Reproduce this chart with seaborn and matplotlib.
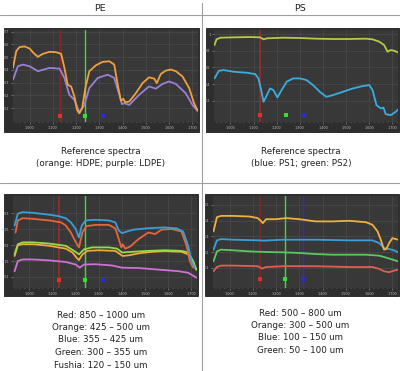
import numpy as np
import pandas as pd
import matplotlib
matplotlib.use("Agg")
import matplotlib.pyplot as plt
import seaborn as sns
from matplotlib.patches import Rectangle
from matplotlib.lines import Line2D
from matplotlib.ticker import MultipleLocator

# ---------------- data ----------------
headers = ["PE", "PS"]
x_ticks = [1000, 1100, 1200, 1300, 1400, 1500, 1600, 1700]
x_tick_labels = ["1,000", "1,100", "1,200", "1,300", "1,400", "1,500", "1,600", "1,700"]

# PE reference spectra
hdpe_wl = [929, 943, 957, 979, 1000, 1021, 1036, 1057, 1086, 1114, 1136, 1150, 1164, 1179, 1193, 1204,
           1214, 1226, 1240, 1257, 1286, 1314, 1343, 1364, 1379, 1393, 1403, 1411, 1429, 1457, 1486,
           1514, 1536, 1547, 1564, 1586, 1607, 1629, 1657, 1686, 1707, 1721]
hdpe_val = [0.416, 0.547, 0.579, 0.584, 0.568, 0.526, 0.503, 0.526, 0.542, 0.539, 0.526, 0.416, 0.284,
            0.27, 0.19, 0.087, 0.06, 0.10, 0.258, 0.39, 0.437, 0.463, 0.468, 0.442, 0.284, 0.158, 0.174,
            0.147, 0.153, 0.218, 0.297, 0.342, 0.332, 0.297, 0.368, 0.395, 0.403, 0.39, 0.35, 0.258,
            0.139, 0.087]
ldpe_wl = [929, 950, 971, 1000, 1036, 1086, 1129, 1150, 1171, 1193, 1214, 1236, 1257, 1293, 1336, 1364,
           1386, 1397, 1407, 1429, 1471, 1514, 1543, 1571, 1600, 1629, 1671, 1700, 1724]
ldpe_val = [0.324, 0.429, 0.442, 0.429, 0.39, 0.416, 0.41, 0.337, 0.205, 0.166, 0.068, 0.126, 0.258,
            0.337, 0.363, 0.337, 0.205, 0.132, 0.139, 0.126, 0.205, 0.271, 0.253, 0.29, 0.31, 0.29,
            0.218, 0.126, 0.074]

# PS reference spectra
ps2_wl = [931, 940, 957, 1014, 1086, 1129, 1143, 1157, 1229, 1300, 1371, 1443, 1514, 1586, 1614, 1643,
          1664, 1679, 1693, 1707, 1724]
ps2_val = [0.868, 0.936, 0.956, 0.96, 0.964, 0.96, 0.936, 0.948, 0.956, 0.952, 0.944, 0.94, 0.94, 0.944,
           0.936, 0.908, 0.868, 0.788, 0.808, 0.8, 0.78]
ps1_wl = [931, 950, 971, 1014, 1071, 1107, 1121, 1133, 1143, 1154, 1171, 1186, 1203, 1221, 1243, 1271,
          1300, 1329, 1357, 1386, 1414, 1443, 1486, 1529, 1571, 1600, 1614, 1631, 1650, 1661, 1671,
          1693, 1714, 1724]
ps1_val = [0.468, 0.56, 0.568, 0.548, 0.536, 0.52, 0.468, 0.328, 0.188, 0.248, 0.348, 0.328, 0.24,
           0.328, 0.428, 0.468, 0.468, 0.448, 0.388, 0.308, 0.248, 0.268, 0.308, 0.348, 0.376, 0.388,
           0.328, 0.148, 0.108, 0.12, 0.04, 0.028, 0.068, 0.096]

# PE size fractions
pe_blue_wl = [936, 950, 971, 1014, 1086, 1129, 1157, 1179, 1200, 1214, 1226, 1243, 1286, 1343, 1371,
              1386, 1400, 1421, 1450, 1507, 1579, 1636, 1664, 1686, 1700, 1714]
pe_blue_val = [0.262, 0.299, 0.304, 0.302, 0.296, 0.291, 0.285, 0.272, 0.251, 0.224, 0.262, 0.278,
               0.28, 0.278, 0.272, 0.246, 0.238, 0.243, 0.249, 0.253, 0.256, 0.253, 0.243, 0.198, 0.15,
               0.129]
pe_red_wl = [940, 950, 971, 1014, 1086, 1136, 1157, 1179, 1197, 1214, 1229, 1246, 1286, 1343, 1371,
             1386, 1397, 1403, 1414, 1436, 1471, 1514, 1543, 1571, 1614, 1657, 1679, 1693, 1707]
pe_red_val = [0.24, 0.278, 0.285, 0.283, 0.278, 0.272, 0.262, 0.24, 0.214, 0.193, 0.24, 0.26, 0.264,
              0.264, 0.253, 0.219, 0.193, 0.203, 0.189, 0.196, 0.219, 0.24, 0.235, 0.249, 0.251, 0.243,
              0.198, 0.15, 0.129]
pe_green_wl = [936, 950, 971, 1014, 1086, 1157, 1193, 1214, 1236, 1271, 1343, 1379, 1400, 1443, 1514,
               1586, 1657, 1686, 1707, 1721]
pe_green_val = [0.171, 0.203, 0.209, 0.209, 0.205, 0.198, 0.182, 0.171, 0.187, 0.193, 0.193, 0.189,
                0.177, 0.179, 0.182, 0.184, 0.182, 0.177, 0.15, 0.123]
pe_orange_wl = [936, 950, 971, 1014, 1086, 1157, 1186, 1203, 1214, 1229, 1250, 1300, 1371, 1393, 1403,
                1429, 1471, 1529, 1586, 1657, 1686, 1707, 1721]
pe_orange_val = [0.166, 0.2, 0.203, 0.203, 0.198, 0.189, 0.177, 0.161, 0.153, 0.171, 0.182, 0.184,
                 0.182, 0.171, 0.166, 0.168, 0.174, 0.179, 0.181, 0.179, 0.171, 0.144, 0.123]
pe_fushia_wl = [936, 950, 971, 1014, 1086, 1157, 1200, 1217, 1236, 1286, 1357, 1400, 1471, 1557, 1643,
                1686, 1707, 1724]
pe_fushia_val = [0.118, 0.15, 0.155, 0.155, 0.152, 0.147, 0.139, 0.129, 0.139, 0.14, 0.136, 0.129,
                 0.128, 0.123, 0.118, 0.113, 0.104, 0.097]

# PS size fractions
ps_orange_wl = [931, 946, 964, 1014, 1086, 1121, 1133, 1143, 1157, 1200, 1243, 1300, 1371, 1443, 1514,
                1586, 1614, 1636, 1650, 1664, 1674, 1686, 1700, 1724]
ps_orange_val = [0.332, 0.422, 0.43, 0.43, 0.426, 0.416, 0.401, 0.384, 0.409, 0.409, 0.416, 0.409,
                 0.395, 0.395, 0.399, 0.39, 0.374, 0.332, 0.279, 0.216, 0.22, 0.258, 0.289, 0.279]
ps_blue_wl = [931, 946, 964, 1014, 1129, 1143, 1229, 1371, 1514, 1614, 1643, 1664, 1686, 1707, 1724]
ps_blue_val = [0.216, 0.275, 0.283, 0.279, 0.275, 0.273, 0.279, 0.279, 0.275, 0.275, 0.258, 0.226,
               0.22, 0.212, 0.199]
ps_green_wl = [931, 946, 964, 1014, 1086, 1157, 1229, 1300, 1371, 1443, 1514, 1586, 1643, 1679, 1724]
ps_green_val = [0.142, 0.205, 0.216, 0.212, 0.205, 0.201, 0.199, 0.195, 0.188, 0.184, 0.184, 0.184,
                0.178, 0.163, 0.142]
ps_red_wl = [931, 946, 964, 1014, 1121, 1140, 1157, 1229, 1371, 1514, 1614, 1643, 1664, 1686, 1707,
             1724]
ps_red_val = [0.079, 0.106, 0.115, 0.115, 0.111, 0.096, 0.106, 0.111, 0.111, 0.106, 0.106, 0.094,
              0.079, 0.073, 0.083, 0.089]

marker_wl = {"red": 1129, "green": 1240, "blue": 1317}

captions = [
    ["Reference spectra", "(orange: HDPE; purple: LDPE)"],
    ["Reference spectra", "(blue: PS1; green: PS2)"],
    ["Red: 850 \u2013 1000 um", "Orange: 425 \u2013 500 um", "Blue: 355 \u2013 425 um",
     "Green: 300 \u2013 355 um", "Fushia: 120 \u2013 150 um"],
    ["Red: 500 \u2013 800 um", "Orange: 300 \u2013 500 um", "Blue: 100 \u2013 150 um",
     "Green: 50 \u2013 100 um"],
]

# ---------------- figure ----------------
sns.set_theme(style="dark")
plt.rcParams['font.family'] = ['DejaVu Sans']
W, H = 400, 371
fig = plt.figure(figsize=(W / 100, H / 100), dpi=100)
fig.patch.set_facecolor("white")


def rect(x0, y0, x1, y1):
    return [x0 / W, 1 - y1 / H, (x1 - x0) / W, (y1 - y0) / H]


# table rules
fig.add_artist(Line2D([0, 1], [1 - 15 / H, 1 - 15 / H], color="#a0a0a0", lw=0.8))
fig.add_artist(Line2D([0, 1], [1 - 182.5 / H, 1 - 182.5 / H], color="#a0a0a0", lw=0.8))
fig.add_artist(Line2D([201.5 / W, 201.5 / W], [0, 1 - 3 / H], color="#a0a0a0", lw=0.8))

for i, h in enumerate(headers):
    fig.text((100 + 200 * i) / W, 1 - 8.5 / H, h, ha="center", va="center", fontsize=6.8, color="#222222")


def panel(panel_box, data_box, series, ylim, yticks, ylabels, markers_y, vlines):
    fig.add_artist(Rectangle((panel_box[0] / W, 1 - panel_box[3] / H),
                             (panel_box[2] - panel_box[0]) / W, (panel_box[3] - panel_box[1]) / H,
                             transform=fig.transFigure, facecolor="#2e2e2e", edgecolor="#1e1e1e",
                             lw=0.6, zorder=0))
    ax = fig.add_axes(rect(*data_box))
    ax.set_facecolor("#383838")
    for wl, val, c in series:
        df = pd.DataFrame({"wl": wl, "val": val})
        sns.lineplot(data=df, x="wl", y="val", ax=ax, color=c, lw=1.3, estimator=None, sort=False,
                     zorder=3)
    for name, c, a, lw in vlines:
        ax.axvline(marker_wl[name], color=c, alpha=a, lw=lw, zorder=2)
    for name, c in [("red", "#e0302a"), ("green", "#33e033"), ("blue", "#2a2ae0")]:
        ax.scatter([marker_wl[name]], [markers_y], s=5, marker="s", color=c, zorder=4, linewidths=0)
    ax.set_xlim(929, 1724)
    ax.set_ylim(*ylim)
    ax.set_xticks(x_ticks)
    ax.set_xticklabels(x_tick_labels)
    ax.set_yticks(yticks)
    ax.set_yticklabels(ylabels)
    ax.xaxis.set_minor_locator(MultipleLocator(20))
    ax.tick_params(axis="both", which="major", labelsize=2.4, labelcolor="#bdbdbd", color="#9a9a9a",
                   length=1.5, width=0.4, pad=1.2, bottom=True, left=True)
    ax.tick_params(axis="both", which="minor", color="#8a8a8a", length=1.0, width=0.3, bottom=True)
    ax.grid(True, color="#4c4c4c", lw=0.5)
    ax.set_xlabel("")
    ax.set_ylabel("")
    for s in ax.spines.values():
        s.set_visible(False)
    return ax


GREEN_LINE = ("green", "#3ddc3d", 1.0, 1.0)

# top-left: PE reference
panel((4, 28, 199, 132), (13, 30, 198, 122),
      [(ldpe_wl, ldpe_val, "#9b7fd6"), (hdpe_wl, hdpe_val, "#f0a040")],
      (-0.008, 0.713), [0.1, 0.2, 0.3, 0.4, 0.5, 0.6, 0.7],
      ["0.1", "0.2", "0.3", "0.4", "0.5", "0.6", "0.7"], 0.042,
      [("red", "#8c2424", 0.85, 2.0), GREEN_LINE])

# top-right: PS reference
panel((206, 28, 399, 132), (214, 30, 398, 122),
      [(ps2_wl, ps2_val, "#b8c848"), (ps1_wl, ps1_val, "#3aaee0")],
      (-0.054, 1.048), [0.2, 0.4, 0.6, 0.8, 1.0],
      ["0.2", "0.4", "0.6", "0.8", "1"], 0.028,
      [("red", "#b02828", 0.85, 1.2)])

# bottom-left: PE fractions
panel((4, 194, 198, 296), (13, 196, 197, 288),
      [(pe_fushia_wl, pe_fushia_val, "#d070d8"), (pe_orange_wl, pe_orange_val, "#f0a838"),
       (pe_green_wl, pe_green_val, "#9ad84a"), (pe_red_wl, pe_red_val, "#e8643a"),
       (pe_blue_wl, pe_blue_val, "#3a9ed8")],
      (0.065, 0.355), [0.1, 0.15, 0.2, 0.25, 0.3],
      ["0.1", "0.15", "0.2", "0.25", "0.3"], 0.09,
      [("red", "#b02828", 0.85, 1.2), GREEN_LINE])

# bottom-right: PS fractions
panel((205, 194, 399, 296), (213, 196, 398, 288),
      [(ps_red_wl, ps_red_val, "#e06050"), (ps_green_wl, ps_green_val, "#5cc860"),
       (ps_blue_wl, ps_blue_val, "#3a9ed8"), (ps_orange_wl, ps_orange_val, "#f0b040")],
      (-0.027, 0.556), [0.1, 0.2, 0.3, 0.4, 0.5],
      ["0.1", "0.2", "0.3", "0.4", "0.5"], 0.03,
      [("red", "#8c2424", 0.85, 1.2), GREEN_LINE, ("blue", "#3030c0", 1.0, 1.0)])

# captions
cap_pos = [(101, [151, 163.5]), (301, [151, 163.5]),
           (101, [315, 327.5, 340, 352.5, 365]), (300, [313, 325.5, 338, 350.5])]
for (cx, ys), lines in zip(cap_pos, captions):
    for y, t in zip(ys, lines):
        fig.text(cx / W, 1 - y / H, t, ha="center", va="center", fontsize=6.3, color="#222222")

fig.savefig("out.png", dpi=100, facecolor="white")
